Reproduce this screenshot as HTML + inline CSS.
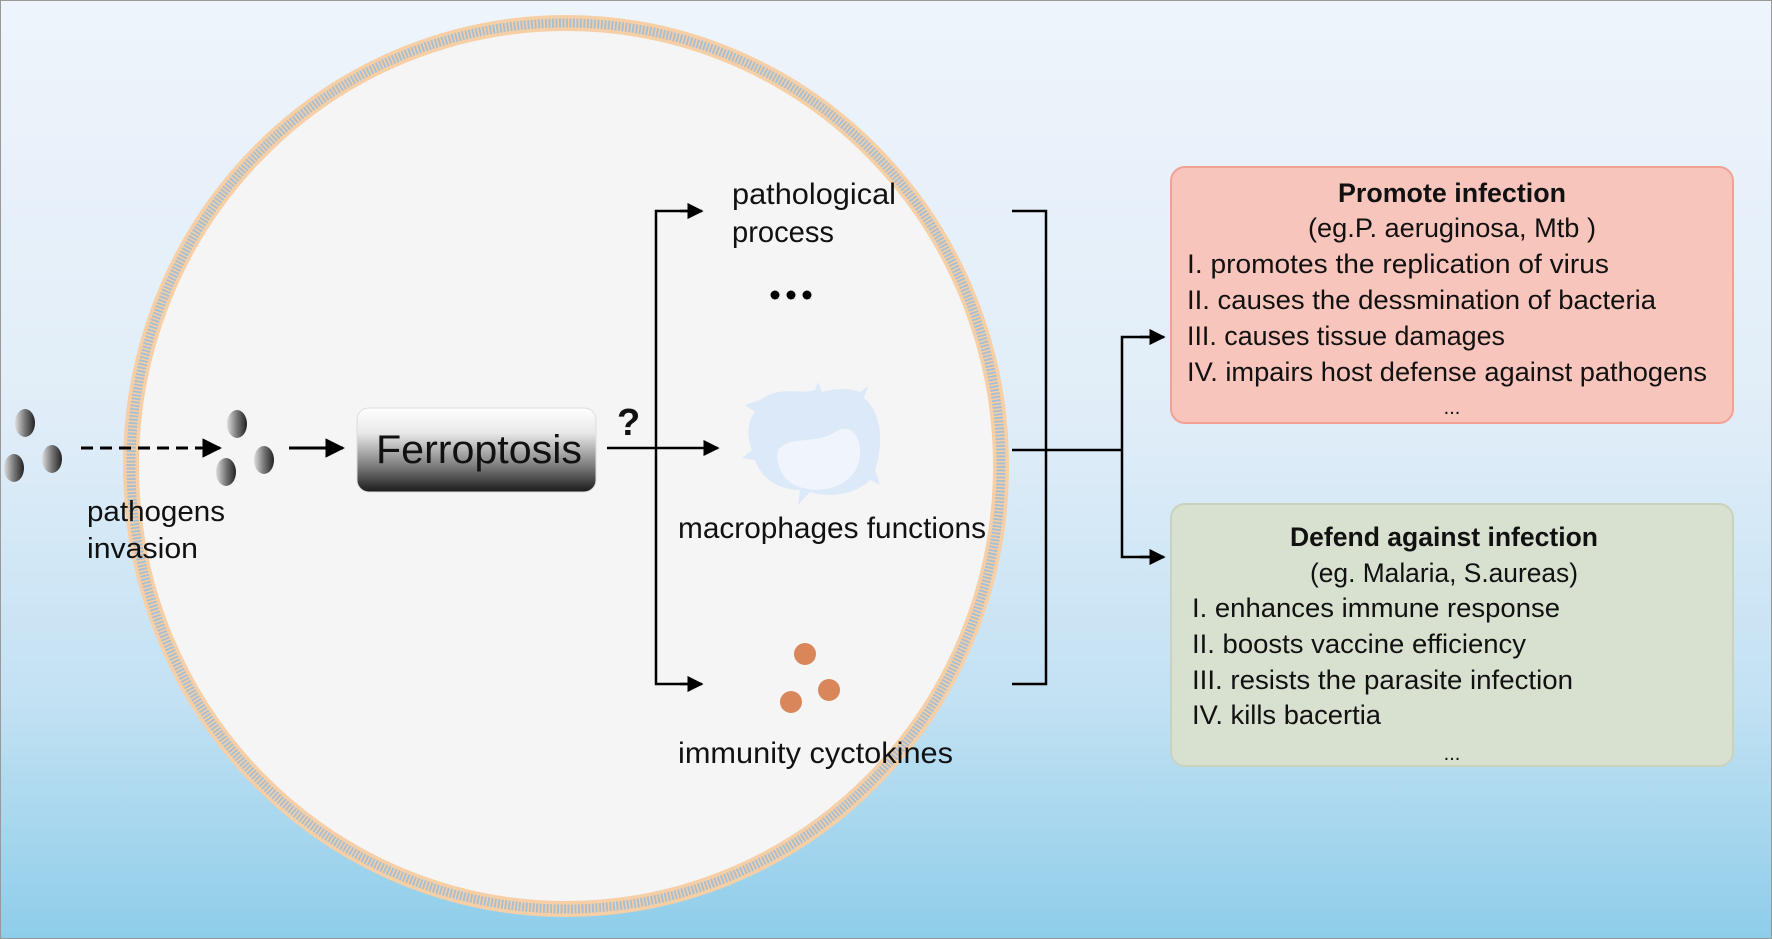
<!DOCTYPE html>
<html><head><meta charset="utf-8"><style>
html,body{margin:0;padding:0;width:1772px;height:939px;overflow:hidden}
svg{display:block}
text{font-family:"Liberation Sans","DejaVu Sans",sans-serif;fill:#111}
</style></head><body>
<svg width="1772" height="939" viewBox="0 0 1772 939" xmlns="http://www.w3.org/2000/svg">
<defs>
<linearGradient id="bg" x1="0" y1="0" x2="0" y2="1">
<stop offset="0" stop-color="#eef4fb"/><stop offset="0.45" stop-color="#e0edf8"/><stop offset="0.75" stop-color="#c2e1f3"/><stop offset="1" stop-color="#8ecde9"/>
</linearGradient>
<linearGradient id="fer" x1="0" y1="0" x2="0" y2="1">
<stop offset="0" stop-color="#ffffff"/><stop offset="0.3" stop-color="#e8e8e8"/><stop offset="0.7" stop-color="#7a7a7a"/><stop offset="1" stop-color="#1a1a1a"/>
</linearGradient>
<linearGradient id="dot" x1="0" y1="0" x2="1" y2="0">
<stop offset="0" stop-color="#ddd"/><stop offset="0.5" stop-color="#777"/><stop offset="1" stop-color="#222"/>
</linearGradient>
<marker id="ah" viewBox="0 0 10 10" refX="9" refY="5" markerWidth="6.5" markerHeight="6.5" orient="auto"><path d="M0,0 L10,5 L0,10 z" fill="#000"/></marker>
</defs>
<rect width="1772" height="939" fill="url(#bg)" stroke="#999" stroke-width="2"/>
<!-- cell -->
<ellipse cx="566" cy="466" rx="435" ry="443" fill="#f5f5f5"/>
<ellipse cx="566" cy="466" rx="435" ry="443" fill="none" stroke="#f7cfa6" stroke-width="16"/>
<ellipse cx="566" cy="466" rx="435" ry="443" fill="none" stroke="#a9bfd0" stroke-width="9" stroke-dasharray="2 1.5"/>
<!-- pathogens -->
<g fill="url(#dot)">
<ellipse cx="25" cy="423" rx="10" ry="14"/><ellipse cx="14" cy="468" rx="10" ry="14"/><ellipse cx="52" cy="459" rx="10" ry="14"/>
<ellipse cx="237" cy="424" rx="10" ry="14"/><ellipse cx="226" cy="472" rx="10" ry="14"/><ellipse cx="264" cy="460" rx="10" ry="14"/>
</g>
<line x1="81" y1="448" x2="220" y2="448" stroke="#000" stroke-width="3" stroke-dasharray="12 7" marker-end="url(#ah)"/>
<line x1="289" y1="448" x2="343" y2="448" stroke="#000" stroke-width="3" marker-end="url(#ah)"/>
<g lengthAdjust="spacingAndGlyphs">
<text x="87" y="521" font-size="29" textLength="138" lengthAdjust="spacingAndGlyphs">pathogens</text>
<text x="87" y="558" font-size="29" textLength="111" lengthAdjust="spacingAndGlyphs">invasion</text>
</g>
<rect x="357" y="408" width="239" height="84" rx="12" fill="url(#fer)" stroke="#ddd" stroke-width="1"/>
<text x="376" y="463" font-size="40" textLength="206" lengthAdjust="spacingAndGlyphs">Ferroptosis</text>
<text x="617" y="435" font-size="38" font-weight="bold">?</text>
<line x1="607" y1="448" x2="718" y2="448" stroke="#000" stroke-width="2.5" marker-end="url(#ah)"/>
<path d="M700,211 H656 V684 H700" fill="none" stroke="#000" stroke-width="2.5"/>
<line x1="680" y1="211" x2="702" y2="211" stroke="#000" stroke-width="2.5" marker-end="url(#ah)"/>
<line x1="680" y1="684" x2="702" y2="684" stroke="#000" stroke-width="2.5" marker-end="url(#ah)"/>
<text x="732" y="204" font-size="30" textLength="164" lengthAdjust="spacingAndGlyphs">pathological</text>
<text x="732" y="242" font-size="30" textLength="102" lengthAdjust="spacingAndGlyphs">process</text>
<g fill="#000"><circle cx="775" cy="295" r="4.5"/><circle cx="791" cy="295" r="4.5"/><circle cx="807" cy="295" r="4.5"/></g>
<!-- macrophage -->
<path d="M760,400 C780,385 800,395 815,390 L818,382 L822,392 C835,388 850,388 860,392 L868,386 L864,398 C880,410 885,440 875,470 L880,485 L870,480 C855,495 830,498 810,492 L798,505 L800,490 C780,490 762,480 755,460 L742,458 L752,450 C746,435 748,420 755,412 L745,405 Z" fill="#dce9f8"/>
<path d="M778,450 C790,435 815,445 835,432 C855,420 865,445 858,465 C848,490 815,495 795,485 C780,478 775,460 778,450 Z" fill="#f0f4fc"/>
<text x="678" y="538" font-size="30" textLength="308" lengthAdjust="spacingAndGlyphs">macrophages functions</text>
<g fill="#d9865a"><circle cx="805" cy="654" r="11"/><circle cx="829" cy="690" r="11"/><circle cx="791" cy="702" r="11"/></g>
<text x="678" y="763" font-size="30" textLength="275" lengthAdjust="spacingAndGlyphs">immunity cyctokines</text>
<!-- bracket -->
<path d="M1012,211 H1046 V684 H1012" fill="none" stroke="#000" stroke-width="2.5"/>
<line x1="1012" y1="450" x2="1122" y2="450" stroke="#000" stroke-width="2.5"/>
<path d="M1150,337 H1122 V557 H1150" fill="none" stroke="#000" stroke-width="2.5"/>
<line x1="1140" y1="337" x2="1164" y2="337" stroke="#000" stroke-width="2.5" marker-end="url(#ah)"/>
<line x1="1140" y1="557" x2="1164" y2="557" stroke="#000" stroke-width="2.5" marker-end="url(#ah)"/>
<!-- boxes -->
<rect x="1171" y="167" width="562" height="256" rx="14" fill="#f8c5bc" stroke="#f2a092" stroke-width="2"/>
<text x="1452" y="202" font-size="27" font-weight="bold" text-anchor="middle" textLength="228" lengthAdjust="spacingAndGlyphs">Promote infection</text>
<text x="1452" y="237" font-size="27" text-anchor="middle" textLength="288" lengthAdjust="spacingAndGlyphs">(eg.P. aeruginosa, Mtb )</text>
<text x="1187" y="273" font-size="27" textLength="422" lengthAdjust="spacingAndGlyphs">I. promotes the replication of virus</text>
<text x="1187" y="309" font-size="27" textLength="469" lengthAdjust="spacingAndGlyphs">II. causes the dessmination of bacteria</text>
<text x="1187" y="345" font-size="27" textLength="318" lengthAdjust="spacingAndGlyphs">III. causes tissue damages</text>
<text x="1187" y="381" font-size="27" textLength="520" lengthAdjust="spacingAndGlyphs">IV. impairs host defense against pathogens</text>
<text x="1452" y="414" font-size="20" text-anchor="middle">...</text>
<rect x="1171" y="504" width="562" height="262" rx="14" fill="#d8e0cf" stroke="#c8d2bd" stroke-width="2"/>
<text x="1444" y="546" font-size="27" font-weight="bold" text-anchor="middle" textLength="308" lengthAdjust="spacingAndGlyphs">Defend against infection</text>
<text x="1444" y="582" font-size="27" text-anchor="middle" textLength="268" lengthAdjust="spacingAndGlyphs">(eg. Malaria, S.aureas)</text>
<text x="1192" y="617" font-size="27" textLength="368" lengthAdjust="spacingAndGlyphs">I. enhances immune response</text>
<text x="1192" y="653" font-size="27" textLength="334" lengthAdjust="spacingAndGlyphs">II. boosts vaccine efficiency</text>
<text x="1192" y="689" font-size="27" textLength="381" lengthAdjust="spacingAndGlyphs">III. resists the parasite infection</text>
<text x="1192" y="724" font-size="27" textLength="189" lengthAdjust="spacingAndGlyphs">IV. kills bacertia</text>
<text x="1452" y="760" font-size="20" text-anchor="middle">...</text>
</svg>
</body></html>
